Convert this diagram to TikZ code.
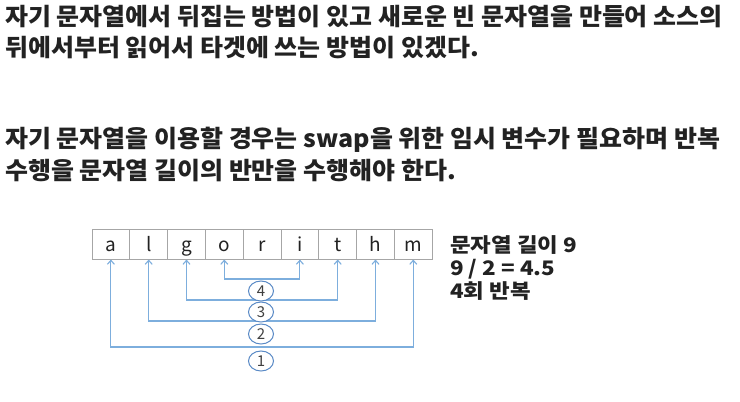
\documentclass[tikz,border=0pt]{standalone}
\usepackage{fontspec}
\setmainfont{Noto Sans CJK KR}
\newfontfamily\krwide[FakeStretch=1.04]{Noto Sans CJK KR}
\newfontfamily\krnote[FakeStretch=1.12]{Noto Sans CJK KR}
\usetikzlibrary{arrows.meta, positioning, shapes.geometric}
\definecolor{linkblue}{HTML}{7DAEDD}
\definecolor{ringblue}{HTML}{5A8AC6}
\definecolor{cellgray}{HTML}{A6A6A6}
\definecolor{ink}{HTML}{222222}
\tikzset{%
	cell/.style={
		draw=cellgray,
		line width=1pt,
		minimum width=37.8pt,
		minimum height=30pt,
		inner sep=0pt,
		outer sep=0pt,
		text height=14pt,
		text depth=0pt,
		text=ink,
		font=\fontsize{19}{19}\selectfont
	},
	swapline/.style={
		draw=linkblue,
		line width=1.1pt,
		{Straight Barb[length=4pt,width=7pt]}-{Straight Barb[length=4pt,width=7pt]}
	},
	stepnum/.style={
		ellipse,
		draw=ringblue,
		fill=white,
		line width=1pt,
		minimum width=25pt,
		minimum height=20pt,
		inner sep=0pt,
		text=black!75,
		font=\fontsize{15}{15}\selectfont
	},
	para/.style={
		anchor=base west,
		inner sep=0pt,
		text=ink,
		font=\krwide\fontsize{24}{24}\selectfont\bfseries
	},
	note/.style={
		anchor=base west,
		inner sep=0pt,
		text=ink,
		font=\krnote\fontsize{20}{20}\selectfont\bfseries
	},
}
\begin{document}
\begin{tikzpicture}[x=1pt, y=-1pt]
			\fill[white] (0,0) rectangle (740,402);
			\useasboundingbox (0,0) rectangle (740,402);
			
			% Text above
			\node[para] (p1) at (5,25) {자기 문자열에서 뒤집는 방법이 있고 새로운 빈 문자열을 만들어 소스의};
			\node[para] (p2) at (5,56) {뒤에서부터 읽어서 타겟에 쓰는 방법이 있겠다.};
			\node[para] (p3) at (5,147) {자기 문자열을 이용할 경우는 swap을 위한 임시 변수가 필요하며 반복};
			\node[para] (p4) at (5,179) {수행을 문자열 길이의 반만을 수행해야 한다.};
			
			% Draw the cells
			\node[cell] (c1) at (110.9,244.5) {a};
			\node[cell, right=0pt of c1] (c2) {l};
			\node[cell, right=0pt of c2] (c3) {g};
			\node[cell, right=0pt of c3] (c4) {o};
			\node[cell, right=0pt of c4] (c5) {r};
			\node[cell, right=0pt of c5] (c6) {i};
			\node[cell, right=0pt of c6] (c7) {t};
			\node[cell, right=0pt of c7] (c8) {h};
			\node[cell, right=0pt of c8] (c9) {m};
			
			% Notes on the right
			\node[note] (n1) at (450,252) {문자열 길이 9};
			\node[note] (n2) at (450,275) {9 / 2 = 4.5};
			\node[note] (n3) at (450,298) {4회 반복};
			
			% Swap lines
			\coordinate (bar1) at (261,347);
			\coordinate (bar2) at (261,321);
			\coordinate (bar3) at (261,300);
			\coordinate (bar4) at (261,279);
			\draw[swapline] (c1.south) |- (bar1) -| (c9.south);
			\draw[swapline] (c2.south) |- (bar2) -| (c8.south);
			\draw[swapline] (c3.south) |- (bar3) -| (c7.south);
			\draw[swapline] (c4.south) |- (bar4) -| (c6.south);
			
			% Step numbers
			\node[stepnum] (s4) at (261,291) {4};
			\node[stepnum] (s3) at (261,312) {3};
			\node[stepnum] (s2) at (261,334) {2};
			\node[stepnum] (s1) at (261,361) {1};
			
\end{tikzpicture}
\end{document}
